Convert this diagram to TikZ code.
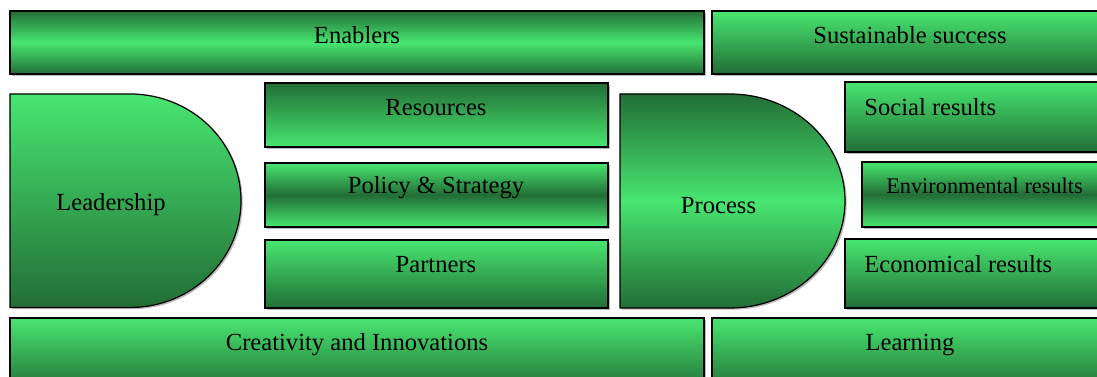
\documentclass[tikz,border=0pt]{standalone}
\usepackage{fontspec}
\setmainfont{Liberation Serif}
\usetikzlibrary{shadows}

\definecolor{lite}{RGB}{72,230,112}
\definecolor{dark}{RGB}{34,110,54}

\tikzset{
  box/.style={draw=black, line width=0.7pt,
    drop shadow={shadow xshift=0.035cm, shadow yshift=-0.035cm, fill=gray, opacity=0.55}},
  litedown/.style={box, top color=lite, bottom color=dark},
  darkdown/.style={box, top color=dark, bottom color=lite},
  litemid/.style={box, top color=dark, bottom color=dark, middle color=lite},
  darkmid/.style={box, top color=lite, bottom color=lite, middle color=dark},
  lbl/.style={font=\fontsize{14}{16}\selectfont, inner sep=0pt, anchor=base},
  lbll/.style={lbl, anchor=base west},
  smalllbl/.style={font=\fontsize{12.7}{15}\selectfont, inner sep=0pt, anchor=base}
}

\begin{document}
\begin{tikzpicture}[x=0.02cm, y=-0.02cm]
    \useasboundingbox (0,0) rectangle (1097,377);
    \clip (0,0) rectangle (1097,377);

    % Top row
    \path[litemid] (10,11) rectangle (704,74);
    \path[litedown] (712,11) rectangle (1110,74);
    \node[lbl] (enablers) at (357,44) {Enablers};
    \node[lbl] (success) at (910,44) {Sustainable success};

    % Leadership and the three enablers beside it
    \path[litedown] (10,94) -- (130,94)
        arc[start angle=-90, end angle=90, x radius=111, y radius=106.75]
        -- (10,307.5) -- cycle;
    \node[lbl] (leadership) at (111,211) {Leadership};

    \path[darkdown] (265,83) rectangle (608,147);
    \path[darkmid] (265,163) rectangle (608,227);
    \path[litedown] (265,240) rectangle (608,308);
    \node[lbl] (resources) at (436,115.5) {Resources};
    \node[lbl] (policy) at (436,194) {Policy \& Strategy};
    \node[lbl] (partners) at (436,272.5) {Partners};

    % Process
    \path[litemid] (620,94) -- (730,94)
        arc[start angle=-90, end angle=90, x radius=115, y radius=107]
        -- (620,308) -- cycle;
    \node[lbl] (process) at (718.5,213.3) {Process};

    % Results
    \path[litedown] (845,82) rectangle (1110,152);
    \path[darkmid] (862,162) rectangle (1110,227);
    \path[litedown] (845,239) rectangle (1110,308);
    \node[lbll] (social) at (864,115.7) {Social results};
    \node[smalllbl] (environment) at (984.5,194) {Environmental results};
    \node[lbll] (economy) at (864,272.7) {Economical results};

    % Bottom row
    \path[litedown] (10,318) rectangle (704,392);
    \path[litedown] (712,318) rectangle (1110,392);
    \node[lbl] (creativity) at (357,350.7) {Creativity and Innovations};
    \node[lbl] (learning) at (910,350.7) {Learning};
\end{tikzpicture}
\end{document}
